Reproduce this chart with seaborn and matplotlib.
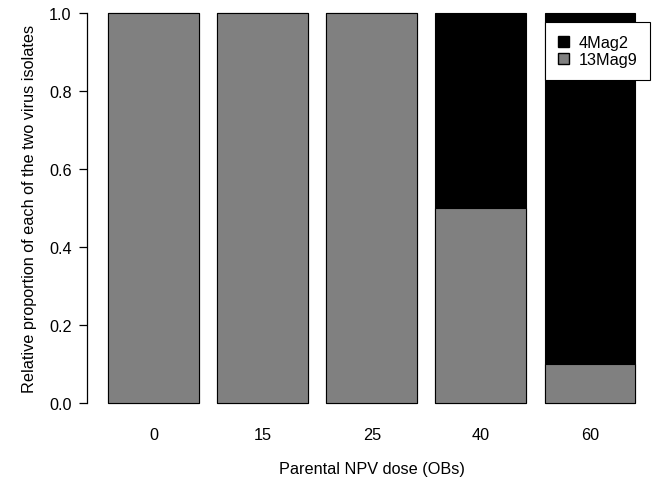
import matplotlib
matplotlib.use("Agg")
import matplotlib.pyplot as plt
import seaborn as sns
import pandas as pd
from matplotlib.patches import Patch

doses = ["0", "15", "25", "40", "60"]
mag9 = [1.0, 1.0, 1.0, 0.5, 0.1]
mag2 = [0.0, 0.0, 0.0, 0.5, 0.9]
yticks = [0.0, 0.2, 0.4, 0.6, 0.8, 1.0]

sns.set_theme(style="ticks")
plt.rcParams['font.family'] = ['Liberation Sans', 'DejaVu Sans']
plt.rcParams['text.color'] = 'black'
plt.rcParams['axes.labelcolor'] = 'black'

df = pd.DataFrame({"dose": doses, "mag9": mag9, "mag2": mag2})
df["total"] = df["mag9"] + df["mag2"]

fs = 11.7
fig = plt.figure(figsize=(6.56, 4.81), dpi=100)
ax = fig.add_axes([0.1325, 0.1277, 0.8685, 0.8757])

sns.barplot(data=df, x="dose", y="total", color="black", width=0.8333,
            edgecolor="black", linewidth=0.8, saturation=1, ax=ax)
sns.barplot(data=df, x="dose", y="mag9", color="#808080", width=0.8333,
            edgecolor="black", linewidth=0.8, saturation=1, ax=ax)

ax.set_xlim(-0.610, 4.611)
ax.set_ylim(-0.04, 1.04)
ax.set_yticks(yticks)
ax.set_yticklabels([f"{v:.1f}" for v in yticks])
for s in ["top", "right", "bottom"]:
    ax.spines[s].set_visible(False)
ax.spines["left"].set_bounds(0, 1)
ax.spines["left"].set_linewidth(0.9)
ax.spines["left"].set_color("black")
ax.tick_params(axis="y", length=6, width=0.9, labelsize=fs, pad=5, colors="black")
ax.tick_params(axis="x", length=0, labelsize=fs, pad=6, colors="black")
ax.set_xlabel("Parental NPV dose (OBs)", fontsize=fs, labelpad=14, color="black")
ax.set_ylabel("Relative proportion of each of the two virus isolates", fontsize=fs,
              labelpad=9, color="black")

handles = [Patch(facecolor="black", edgecolor="black", label="4Mag2"),
           Patch(facecolor="#808080", edgecolor="black", label="13Mag9")]
leg = fig.legend(handles=handles, loc="upper right", bbox_to_anchor=(650/656, 1 - 23/481),
                 frameon=True, fancybox=False, fontsize=fs, handlelength=0.7,
                 handleheight=0.7, handletextpad=0.55, borderpad=0.8, labelspacing=0.12,
                 borderaxespad=0)
leg.get_frame().set_edgecolor("black")
leg.get_frame().set_linewidth(0.8)
leg.get_frame().set_alpha(1)

fig.savefig("out.png", dpi=100)
